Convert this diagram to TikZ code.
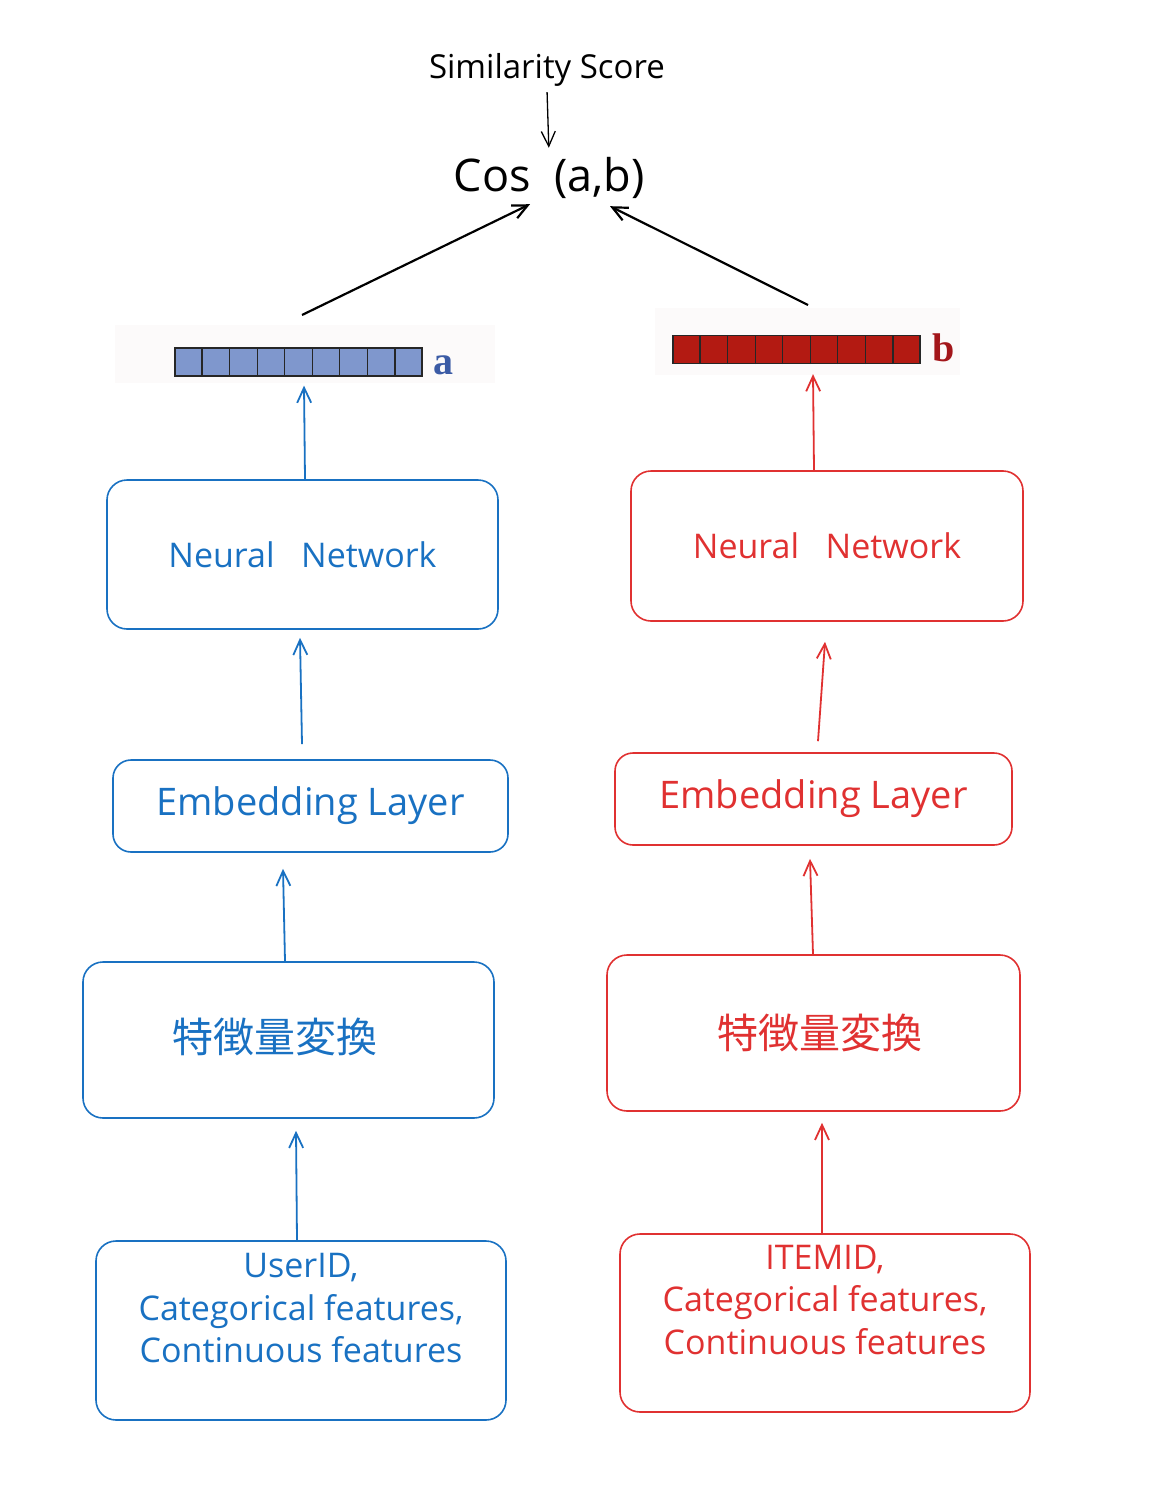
\documentclass[tikz,border=0pt]{standalone}
\usepackage{fontspec}
\setmainfont{Open Sans}
\newfontfamily\cjkfont{Noto Sans CJK JP}
\newfontfamily\tagfont{Liberation Serif}
\usetikzlibrary{arrows.meta,calc}
\definecolor{userblue}{HTML}{1971C2}
\definecolor{itemred}{HTML}{E03131}
\definecolor{cellblue}{HTML}{7F97CD}
\definecolor{cellred}{HTML}{B31A12}
\definecolor{tagblue}{HTML}{3B5BA5}
\definecolor{tagred}{HTML}{A3161A}
\definecolor{paper}{HTML}{FCFAFA}
\tikzset{%
  >={Straight Barb[length=15pt,width=14pt]},
  % node styles
          base/.style = {rectangle, rounded corners=20pt, line width=1.6pt,
                         align=center, inner sep=0pt},
       bluebox/.style = {base, draw=userblue, text=userblue},
        redbox/.style = {base, draw=itemred, text=itemred},
      featfont/.style = {font=\fontsize{34}{42.5}\selectfont, align=center},
        vecbar/.style = {rectangle, draw=black!85, line width=1.3pt,
                         minimum width=247pt, minimum height=28pt, inner sep=0pt},
      vecpaper/.style = {rectangle, fill=paper, inner sep=0pt},
      bluelink/.style = {->, userblue, line width=1.8pt},
       redlink/.style = {->, itemred, line width=1.8pt},
}

\begin{document}
\begin{tikzpicture}[x=1pt, y=-1pt]
  \useasboundingbox (0,0) rectangle (1150,1501);
  % top
  \node (sim)   at (547,70)  {\fontsize{33}{36}\selectfont Similarity Score};
  \node (cos)   at (549,178) {\fontsize{45}{48}\selectfont Cos\ \ (a,b)};
  \coordinate (aTail) at (302,315);
  \coordinate (bTail) at (808,305);

  % vectors
  \node (paperA) [vecpaper, minimum width=380pt, minimum height=58pt] at (305,354) {};
  \node (paperB) [vecpaper, minimum width=305pt, minimum height=67pt] at (807,341) {};
  \node (vecA)  [vecbar, fill=cellblue] at (298.5,362) {};
  \node (vecB)  [vecbar, fill=cellred]  at (796.5,349.5) {};
  \foreach \v in {vecA,vecB}
    \foreach \i in {1,...,8}
      \draw[black!85, line width=1.2pt] ($(\v.south west)!\i/9!(\v.south east)$)
                                      -- ($(\v.north west)!\i/9!(\v.north east)$);
  \node (tagA) [text=tagblue, anchor=west] at (430,365) {\tagfont\bfseries\fontsize{40}{42}\selectfont a};
  \node (tagB) [text=tagred,  anchor=west] at (929,348) {\tagfont\bfseries\fontsize{40}{42}\selectfont b};

  % user tower
  \node (nnA)   [bluebox, minimum width=391pt, minimum height=149pt] at (302.5,554.5)
                {\fontsize{34}{38}\selectfont Neural\ \ \ Network};
  \node (embA)  [bluebox, minimum width=395pt, minimum height=92pt, rounded corners=18pt] at (310.5,806)
                {\fontsize{38}{42}\selectfont Embedding Layer};
  \node (featA) [bluebox, minimum width=411pt, minimum height=156pt] at (288.5,1040)
                {\cjkfont\fontsize{41}{44}\selectfont\raisebox{9pt}{特徴量変換}\hspace{27pt}};
  \node (inA)   [bluebox, minimum width=410pt, minimum height=179pt] at (301,1330.5) {};
  \node (inAtext) [featfont, text=userblue] at ([yshift=22pt]inA.center)
                {UserID,\\ Categorical features,\\ Continuous features};

  % item tower
  \node (nnB)   [redbox, minimum width=392pt, minimum height=150pt] at (827,546)
                {\fontsize{34}{38}\selectfont Neural\ \ \ Network};
  \node (embB)  [redbox, minimum width=397pt, minimum height=92pt, rounded corners=18pt] at (813.5,799)
                {\fontsize{38}{42}\selectfont Embedding Layer};
  \node (featB) [redbox, minimum width=413pt, minimum height=156pt] at (813.5,1033)
                {\cjkfont\fontsize{41}{44}\selectfont\hspace{13pt}特徴量変換};
  \node (inB)   [redbox, minimum width=410pt, minimum height=178pt] at (825,1323) {};
  \node (inBtext) [featfont, text=itemred] at ([yshift=23pt]inB.center)
                {ITEMID,\\ Categorical features,\\ Continuous features};

  % connectors
  \draw[->, line width=1.3pt, shorten <=2pt, shorten >=6pt] (sim.south) -- (cos.north);
  \draw[->, line width=2.2pt] (aTail) -- ([xshift=-19pt,yshift=-2pt]cos.south);
  \draw[->, line width=2.2pt] (bTail) -- ([xshift=61pt,yshift=-4pt]cos.south);

  \draw[bluelink] ([xshift=2.5pt]nnA.north)             -- ([xshift=5.5pt,yshift=-9pt]vecA.south);
  \draw[bluelink] ([xshift=-8.5pt,yshift=15pt]embA.north) -- ([xshift=-2.5pt,yshift=-8pt]nnA.south);
  \draw[bluelink] ([xshift=-3.5pt]featA.north)          -- ([xshift=-27.5pt,yshift=-16pt]embA.south);
  \draw[bluelink] ([xshift=-4pt]inA.north)              -- ([xshift=7.5pt,yshift=-12pt]featA.south);

  \draw[redlink] ([xshift=-13pt]nnB.north)              -- ([xshift=16.5pt,yshift=-10pt]vecB.south);
  \draw[redlink] ([xshift=4.5pt,yshift=11pt]embB.north) -- ([xshift=-2pt,yshift=-20pt]nnB.south);
  \draw[redlink] ([xshift=-0.5pt]featB.north)           -- ([xshift=-3.5pt,yshift=-13pt]embB.south);
  \draw[redlink] ([xshift=-3pt]inB.north)               -- ([xshift=8.5pt,yshift=-11pt]featB.south);
\end{tikzpicture}
\end{document}
